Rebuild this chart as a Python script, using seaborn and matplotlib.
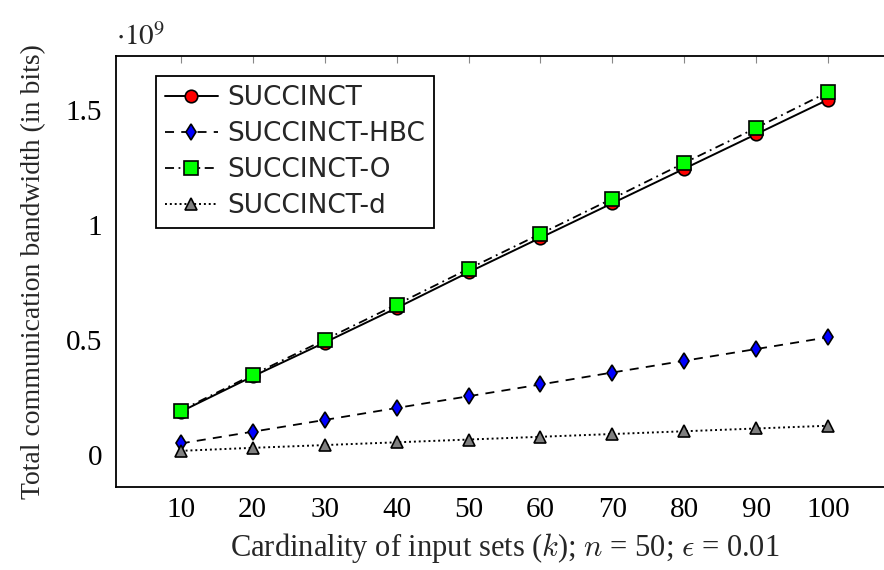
import matplotlib
matplotlib.use("Agg")
import matplotlib.pyplot as plt
import seaborn as sns
from matplotlib.ticker import FuncFormatter

sns.set_theme(style="white")
plt.rcParams['font.family'] = ['Liberation Serif', 'DejaVu Serif']
plt.rcParams['mathtext.fontset'] = 'stix'

k = [10, 20, 30, 40, 50, 60, 70, 80, 90, 100]
succinct = [0.190e9, 0.343e9, 0.490e9, 0.640e9, 0.795e9, 0.945e9, 1.095e9, 1.245e9, 1.395e9, 1.545e9]
succinct_hbc = [0.052e9, 0.103e9, 0.154e9, 0.206e9, 0.257e9, 0.308e9, 0.360e9, 0.411e9, 0.462e9, 0.513e9]
succinct_o = [0.195e9, 0.350e9, 0.502e9, 0.655e9, 0.810e9, 0.962e9, 1.115e9, 1.270e9, 1.422e9, 1.578e9]
succinct_d = [0.020e9, 0.033e9, 0.045e9, 0.057e9, 0.069e9, 0.081e9, 0.093e9, 0.105e9, 0.117e9, 0.129e9]
y_ticks = [0, 0.5e9, 1.0e9, 1.5e9]

fig = plt.figure(figsize=(8.84, 5.70), dpi=100)
ax = fig.add_axes([116/884, 83/570, 777/884, 431/570])

sns.lineplot(x=k, y=succinct, ax=ax, color='black', linestyle='-', linewidth=1.4,
             marker='o', markersize=9, markerfacecolor='#ff0000', markeredgecolor='black',
             markeredgewidth=1.2, label='SUCCINCT')
sns.lineplot(x=k, y=succinct_hbc, ax=ax, color='black', linestyle=(0, (5, 4)), linewidth=1.3,
             marker='d', markersize=8, markerfacecolor='#0000ff', markeredgecolor='black',
             markeredgewidth=1.2, label='SUCCINCT-HBC')
sns.lineplot(x=k, y=succinct_o, ax=ax, color='black', linestyle=(0, (5, 2.5, 1, 2.5)), linewidth=1.3,
             marker='s', markersize=9.5, markerfacecolor='#00ff00', markeredgecolor='black',
             markeredgewidth=1.2, label='SUCCINCT-O')
sns.lineplot(x=k, y=succinct_d, ax=ax, color='black', linestyle=(0, (1, 1.5)), linewidth=1.4,
             marker='^', markersize=8.5, markerfacecolor='#808080', markeredgecolor='black',
             markeredgewidth=1.2, label='SUCCINCT-d')

ax.set_xlim(1, 109)
ax.set_ylim(-0.137e9, 1.734e9)
ax.set_xticks(k)
ax.set_yticks(y_ticks)
ax.yaxis.set_major_formatter(FuncFormatter(lambda v, p: f"{v/1e9:g}"))
ax.tick_params(axis='both', which='major', direction='in', length=5, width=0.8,
               color='#888888', labelsize=21, top=True, right=True, labelcolor='black')
ax.tick_params(axis='y', pad=10)
ax.tick_params(axis='x', pad=7)
for s in ax.spines.values():
    s.set_color('black')
    s.set_linewidth(1.3)
    s.set_visible(True)

ax.text(0.0, 1.025, r"$\cdot 10^{9}$", transform=ax.transAxes, fontsize=21, ha='left', va='baseline')

ax.set_xlabel(r"Cardinality of input sets ($k$); $n$ = 50; $\epsilon$ = 0.01", fontsize=22,
              labelpad=6, math_fontfamily='cm')
ax.set_ylabel("Total communication bandwidth (in bits)", fontsize=20, labelpad=14)

leg = ax.legend(loc='upper left', bbox_to_anchor=(0.051, 0.954), frameon=True, fancybox=False,
                prop={'family': 'DejaVu Sans', 'size': 19}, handlelength=2.0, handletextpad=0.35,
                borderpad=0.35, labelspacing=0.38, borderaxespad=0)
leg.get_frame().set_edgecolor('black')
leg.get_frame().set_linewidth(1.3)
leg.get_frame().set_alpha(1)

fig.savefig("out.png", dpi=100)
